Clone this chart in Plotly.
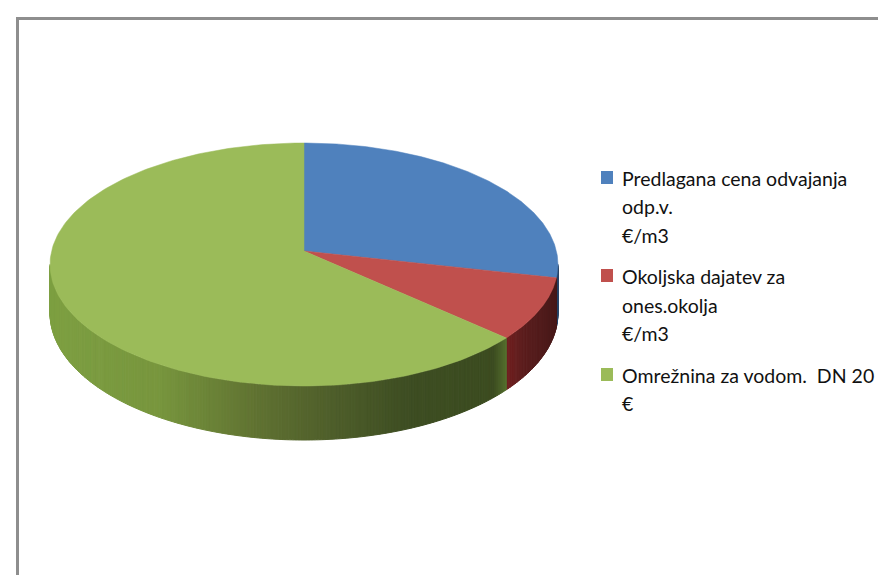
import numpy as np
import plotly.graph_objects as go

# ---- data ----
categories = ["Predlagana cena odvajanja odp.v. €/m3",
              "Okoljska dajatev za ones.okolja €/m3",
              "Omrežnina za vodom. DN 20 €"]
values = [28.5, 8.2, 63.3]
legend_lines = [["Predlagana cena odvajanja", "odp.v.", "€/m3"],
                ["Okoljska dajatev za", "ones.okolja", "€/m3"],
                ["Omrežnina za vodom.  DN 20", "€"]]
top_colors = ["#4F81BD", "#C0504D", "#9BBB59"]

# ---- style / geometry ----
CX, CY, A, B, K, DEPTH = 296, 243, 252.4, 120, 1 / 9, 48
side_stops = [
    [(540, (38, 66, 100)), (552, (38, 66, 100))],
    [(499, (112, 32, 32)), (515, (92, 30, 30)), (550, (70, 25, 25))],
    [(40, (126, 160, 66)), (150, (120, 150, 62)), (250, (96, 114, 50)), (300, (84, 100, 45)),
     (400, (62, 78, 35)), (485, (60, 76, 32)), (498, (86, 112, 46))],
]
FONT = "Lato"
FONT_SIZE = 19.5
TEXT_COLOR = "#111111"
FRAME = "#8E8E8E"


def project(theta):
    """theta clockwise from 12 o'clock on the pie's disc -> screen position."""
    u, v = np.sin(theta), -np.cos(theta)
    w = 1 - K * v
    return CX + A * u / w, CY + B * v / w, DEPTH / w


fractions = np.cumsum([0] + values) / sum(values) * 2 * np.pi
fig = go.Figure()

# side wall: narrow strips, coloured by horizontal position
rim_start = np.pi / 2 + np.arcsin(K)
rim_end = 2 * np.pi - rim_start
for i in range(len(values)):
    lo, hi = max(fractions[i], rim_start), min(fractions[i + 1], rim_end)
    if hi <= lo:
        continue
    edges = np.linspace(lo, hi, max(2, int((hi - lo) * 90)) + 1)
    xs_stop = [s[0] for s in side_stops[i]]
    for t0, t1 in zip(edges[:-1], edges[1:]):
        x0, y0, d0 = project(t0)
        x1, y1, d1 = project(t1)
        xm = (x0 + x1) / 2
        rgb = [np.interp(xm, xs_stop, [s[1][c] for s in side_stops[i]]) for c in range(3)]
        col = "rgb(%d,%d,%d)" % tuple(rgb)
        fig.add_trace(go.Scatter(x=[x0, x1, x1, x0, x0], y=[y0, y1, y1 + d1, y0 + d0, y0],
                                 mode="lines", fill="toself", fillcolor=col,
                                 line=dict(color=col, width=1), hoverinfo="skip", showlegend=False))

# top face
for i, name in enumerate(categories):
    th = np.linspace(fractions[i], fractions[i + 1], 200)
    px, py, _ = project(th)
    fig.add_trace(go.Scatter(x=np.r_[CX, px, CX], y=np.r_[CY, py, CY], mode="lines",
                             fill="toself", fillcolor=top_colors[i],
                             line=dict(color=top_colors[i], width=0.5),
                             name=name, hoverinfo="name", showlegend=False))

# legend
line_y = [[170, 198, 227], [268, 297, 325], [367, 395]]
annotations = []
shapes = []
for i, lines in enumerate(legend_lines):
    y0 = line_y[i][0]
    shapes.append(dict(type="rect", xref="x", yref="y", x0=593, x1=605, y0=y0 - 7, y1=y0 + 6,
                       fillcolor=top_colors[i], line_width=0))
    for text, y in zip(lines, line_y[i]):
        annotations.append(dict(x=612, y=y, xref="x", yref="y", text=text, showarrow=False,
                                xanchor="left", yanchor="middle",
                                font=dict(family=FONT, size=FONT_SIZE, color=TEXT_COLOR)))

# frame
shapes.append(dict(type="path", path="M 9.5 575 L 9.5 10.5 L 886 10.5", xref="x", yref="y",
                   line=dict(color=FRAME, width=3)))

fig.update_layout(
    width=886, height=575, autosize=False, margin=dict(l=0, r=0, t=0, b=0),
    paper_bgcolor="white", plot_bgcolor="white", showlegend=False,
    xaxis=dict(range=[0, 886], visible=False, fixedrange=True),
    yaxis=dict(range=[575, 0], visible=False, fixedrange=True),
    annotations=annotations, shapes=shapes,
)
fig.write_html("out.html", config=dict(displayModeBar=False))
